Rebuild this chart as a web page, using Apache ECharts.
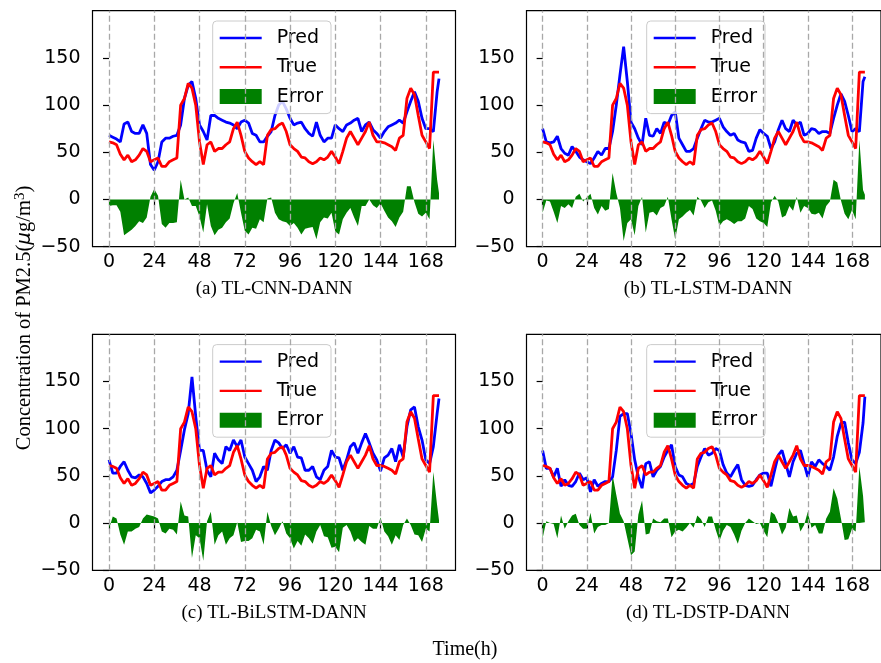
<!DOCTYPE html>
<html>
<head>
<meta charset="utf-8">
<script src="https://cdn.jsdelivr.net/npm/echarts@6/dist/echarts.min.js"></script>
<style>
html, body { margin: 0; padding: 0; background: #fff; }
#chart { width: 881px; height: 663px; }
</style>
</head>
<body>
<div id="chart"></div>
<script>
// hours sampled every 2h (plus the last hour)
var hours = [0,2,4,6,8,10,12,14,16,18,20,22,24,26,28,30,32,34,36,38,
  40,42,44,46,48,50,52,54,56,58,60,62,64,66,68,70,72,74,76,78,
  80,82,84,86,88,90,92,94,96,98,100,102,104,106,108,110,112,114,116,118,
  120,122,124,126,128,130,132,134,136,138,140,142,144,146,148,150,152,154,156,158,
  160,162,164,166,168,170,172,174,175];

var trueVals = [61,60,58,48,42,47,40,42,47,54,51,40,42,44,35,35,40,42,44,100,
  107,123,118,100,61,37,58,61,51,54,54,58,61,75,82,68,51,44,40,37,
  40,37,68,74,75,79,81,72,58,54,51,45,44,40,38,40,44,42,45,51,
  45,38,51,65,72,65,58,65,72,82,68,61,61,60,58,56,52,65,68,107,
  118,111,89,68,61,54,135,135,135];

var predCNN = [68,66,64,61,80,82,72,70,70,79,70,37,31,40,61,65,65,67,68,79,
  107,121,125,107,79,72,63,89,89,86,84,82,81,79,75,82,84,81,70,68,
  61,61,67,72,89,100,104,96,86,79,81,82,75,70,67,82,68,61,65,65,
  79,75,72,79,81,84,86,72,79,82,74,70,65,72,77,79,81,84,81,93,
  104,114,104,86,75,75,72,114,128];

var predLSTM = [75,61,60,61,67,54,49,47,56,51,45,42,40,38,44,51,47,54,54,72,
  100,132,162,125,82,75,65,58,86,68,67,75,70,82,79,89,93,65,58,51,
  51,54,65,75,84,82,82,84,86,77,72,68,70,63,61,60,51,52,65,74,
  70,67,54,61,74,84,75,72,84,79,82,68,70,75,74,70,72,72,70,86,
  100,112,104,89,72,75,72,125,130];

var predBiLSTM = [67,53,53,60,65,56,49,48,51,49,42,32,35,39,44,46,46,49,56,77,
  99,116,155,113,77,77,56,49,74,67,63,81,77,88,81,88,70,63,56,44,
  49,60,56,77,88,85,79,83,74,81,70,69,56,56,60,49,46,56,60,77,
  70,69,56,67,81,85,74,85,95,85,74,67,55,69,72,79,65,83,70,102,
  120,123,102,88,67,63,81,116,132];

var predDSTP = [77,58,58,49,58,39,46,40,39,44,53,46,48,33,46,39,42,44,44,49,
  77,113,116,116,95,67,49,37,63,65,49,56,60,70,77,83,60,51,49,42,
  40,42,60,70,79,72,74,79,77,62,53,49,56,62,46,40,39,40,46,51,
  53,53,39,56,72,77,63,49,65,74,77,63,49,65,60,67,63,60,56,70,
  92,106,107,85,67,63,75,106,134];

var xTicks = [0,24,48,72,96,120,144,168];
var yTicks = [-50,0,50,100,150];
var panelTitles = ['(a) TL-CNN-DANN', '(b) TL-LSTM-DANN', '(c) TL-BiLSTM-DANN', '(d) TL-DSTP-DANN'];

var preds = [predCNN, predLSTM, predBiLSTM, predDSTP];
var gridPos = [[92.5, 10.7], [526.5, 10.7], [92.5, 334.3], [526.5, 334.3]];
var gridW = 363, gridH = 236;

var tickFont = { fontFamily: 'DejaVu Sans', fontSize: 19, color: '#000' };
var linePath = 'path://M0,0H42V2.4H0Z';

function minus(v) { return String(v).replace('-', '\u2212'); }

var grids = [], xAxes = [], yAxes = [], series = [], legends = [], graphics = [];

preds.forEach(function (pred, i) {
    var gx = gridPos[i][0], gy = gridPos[i][1];
    grids.push({
        left: gx, top: gy, width: gridW, height: gridH,
        show: true, borderColor: '#000', borderWidth: 1.2, backgroundColor: 'transparent'
    });
    xAxes.push({
        type: 'value', gridIndex: i, min: -8.75, max: 183.75,
        axisLine: { show: false },
        axisTick: { show: true, customValues: xTicks, length: 6, lineStyle: { color: '#000', width: 1.2 } },
        axisLabel: Object.assign({ customValues: xTicks, margin: 6, formatter: minus }, tickFont),
        splitLine: { show: false }
    });
    yAxes.push({
        type: 'value', gridIndex: i, min: -50, max: 200,
        axisLine: { show: false },
        axisTick: { show: true, customValues: yTicks, length: 6, lineStyle: { color: '#000', width: 1.2 } },
        axisLabel: Object.assign({ customValues: yTicks, margin: 12, formatter: minus }, tickFont),
        splitLine: { show: false }
    });

    // error = true - pred
    var errData = hours.map(function (h, k) { return [h, trueVals[k] - pred[k]]; });
    series.push({
        name: 'Error', type: 'line', xAxisIndex: i, yAxisIndex: i,
        data: errData, symbol: 'none', z: 1,
        itemStyle: { color: '#008000' },
        lineStyle: { width: 0 },
        areaStyle: { color: '#008000', opacity: 1, origin: 0 },
        markLine: {
            silent: true, symbol: 'none', label: { show: false },
            lineStyle: { color: '#a8a8a8', type: [6, 3], width: 1.3 },
            data: xTicks.map(function (v) { return { xAxis: v }; })
        }
    });
    series.push({
        name: 'Pred', type: 'line', xAxisIndex: i, yAxisIndex: i,
        data: hours.map(function (h, k) { return [h, pred[k]]; }),
        symbol: 'none', z: 2,
        itemStyle: { color: '#0000ff' },
        lineStyle: { color: '#0000ff', width: 2.8 }
    });
    series.push({
        name: 'True', type: 'line', xAxisIndex: i, yAxisIndex: i,
        data: hours.map(function (h, k) { return [h, trueVals[k]]; }),
        symbol: 'none', z: 3,
        itemStyle: { color: '#ff0000' },
        lineStyle: { color: '#ff0000', width: 2.8 }
    });

    legends.push({
        orient: 'vertical', left: gx + 120.2, top: gy + 10.3,
        data: [
            { name: 'Pred', icon: linePath },
            { name: 'True', icon: linePath },
            { name: 'Error', icon: 'rect' }
        ],
        itemWidth: 42, itemHeight: 15, itemGap: 10.3,
        padding: [7.5, 8, 7.5, 7],
        borderColor: '#cccccc', borderWidth: 1, borderRadius: 4,
        backgroundColor: 'rgba(255,255,255,0.8)',
        textStyle: { fontFamily: 'DejaVu Sans', fontSize: 19, color: '#000', padding: [0, 0, 0, 10] }
    });

    graphics.push({
        type: 'text', x: gx + gridW / 2, y: gy + 278.5,
        style: {
            text: panelTitles[i], font: '19px "Liberation Serif"',
            fill: '#000', textAlign: 'center', textVerticalAlign: 'middle'
        }
    });
});

graphics.push({
    type: 'text', x: 25, y: 318, rotation: Math.PI / 2,
    style: {
        text: '{a|Concentration of PM2.5(}{i|\u03bc}{a|g/m}{s|3}{a|)}',
        fill: '#000', textAlign: 'center', textVerticalAlign: 'middle',
        rich: {
            a: { fontFamily: 'Liberation Serif', fontSize: 20.5, lineHeight: 24, fill: '#000' },
            i: { fontFamily: 'DejaVu Sans', fontStyle: 'italic', fontSize: 20, lineHeight: 24, fill: '#000' },
            s: { fontFamily: 'Liberation Serif', fontSize: 15, lineHeight: 15, verticalAlign: 'top', fill: '#000' }
        }
    }
});
graphics.push({
    type: 'text', x: 465, y: 650,
    style: {
        text: 'Time(h)', font: '20px "Liberation Serif"',
        fill: '#000', textAlign: 'center', textVerticalAlign: 'middle'
    }
});

var chart = echarts.init(document.getElementById('chart'), null, { renderer: 'canvas' });
chart.setOption({
    animation: false,
    backgroundColor: '#fff',
    grid: grids,
    xAxis: xAxes,
    yAxis: yAxes,
    legend: legends,
    series: series,
    graphic: graphics
});
</script>
</body>
</html>
